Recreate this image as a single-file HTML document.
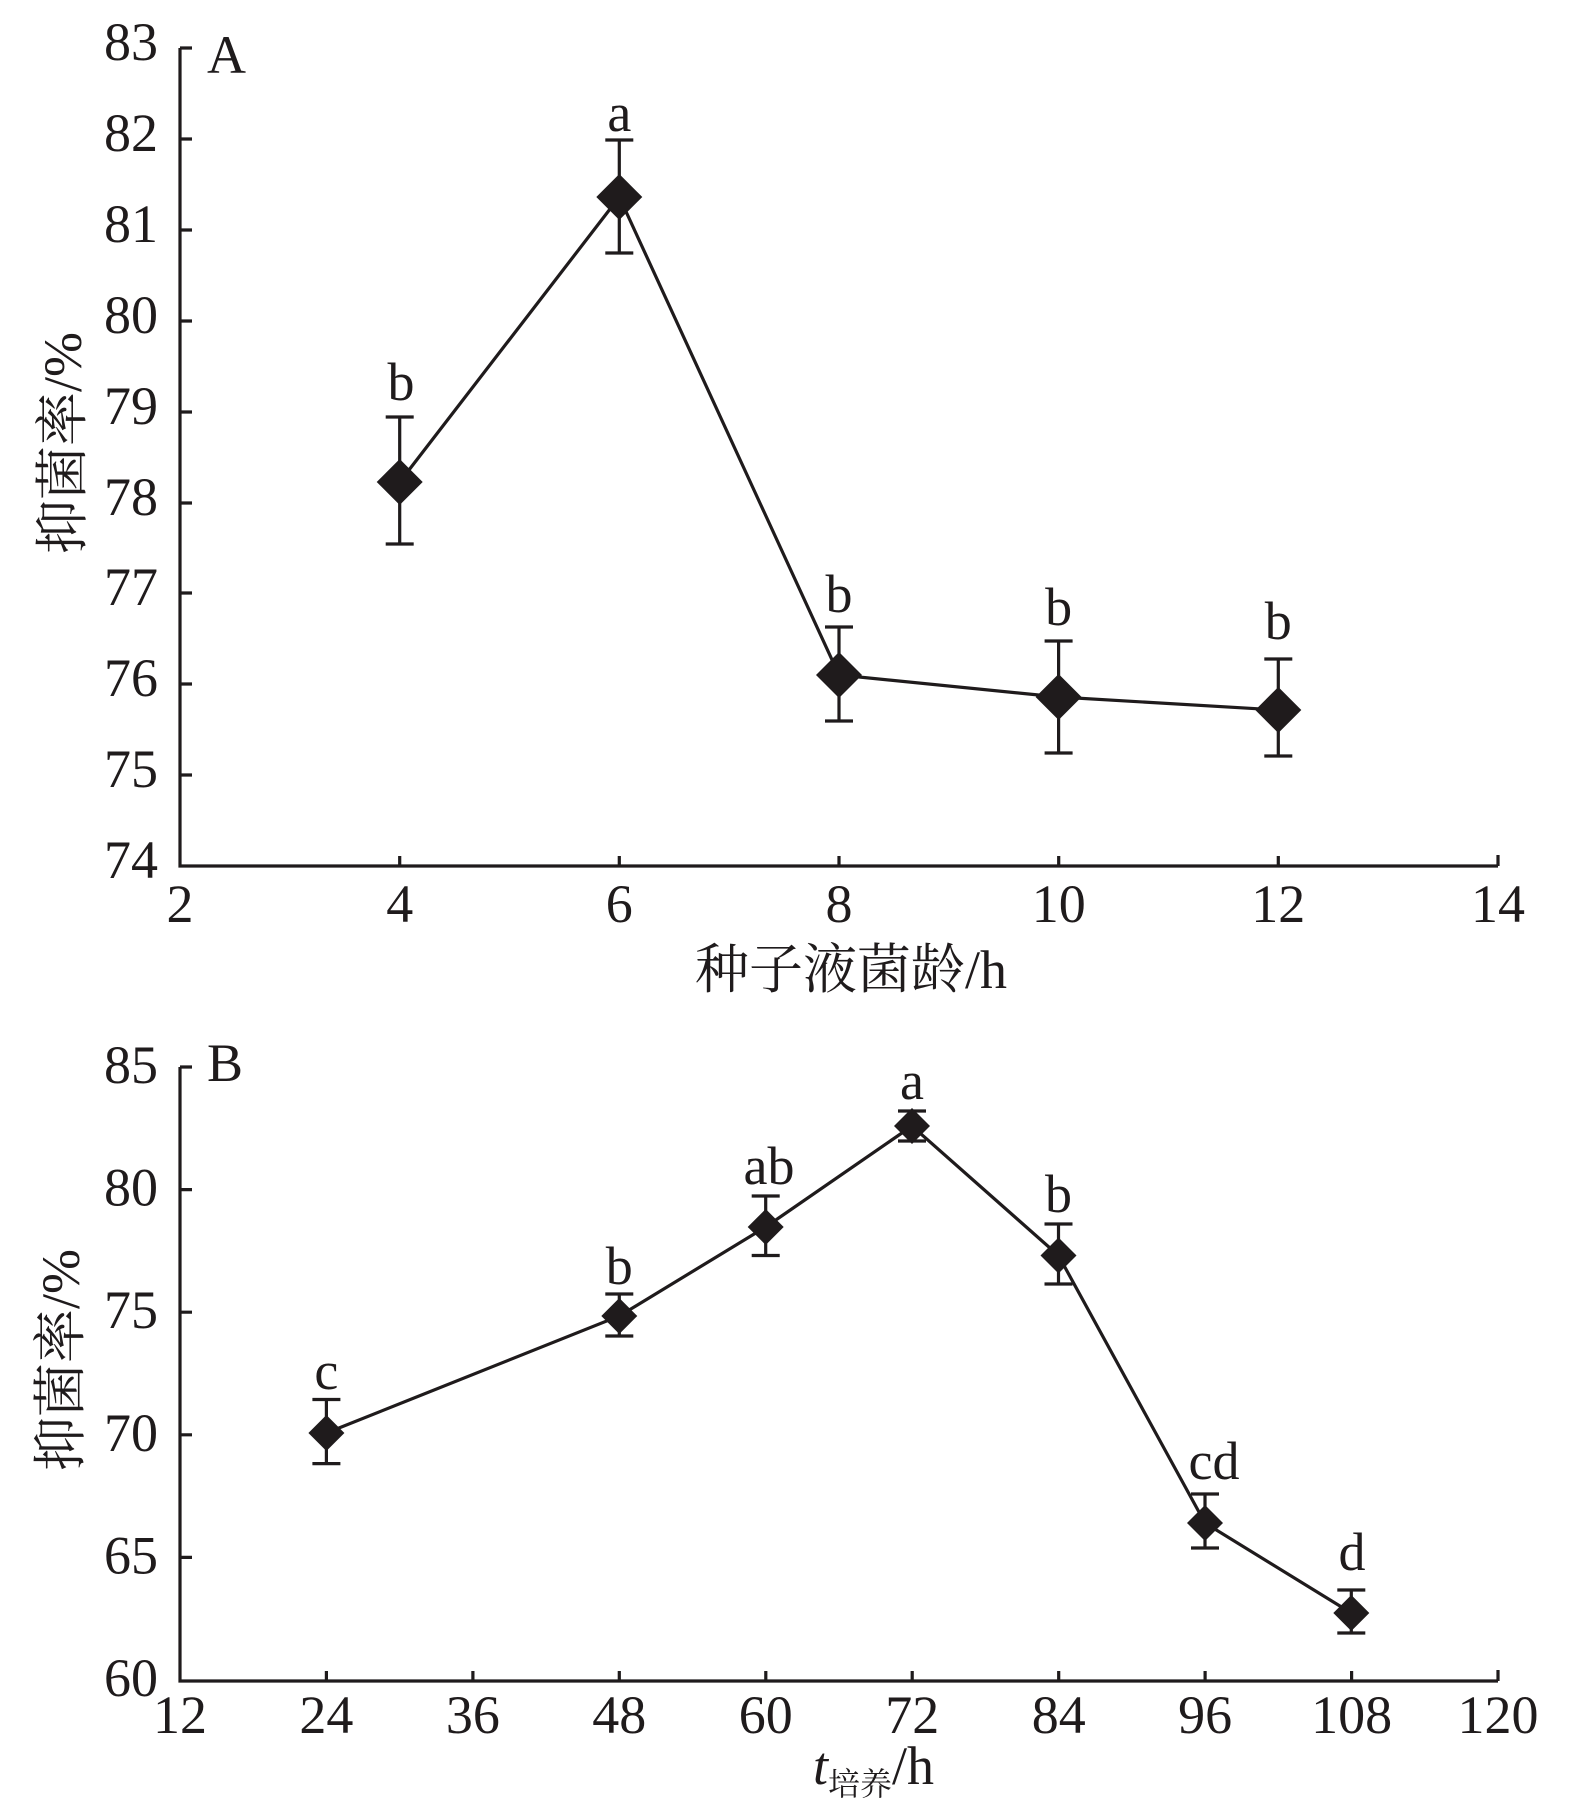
<!DOCTYPE html>
<html><head><meta charset="utf-8"><style>
html,body{margin:0;padding:0;background:#fff;}
svg{display:block;}
text{font-family:"Liberation Serif","Noto Serif CJK SC",serif;fill:#1f1b1c;}
</style></head><body>
<svg width="1575" height="1820" viewBox="0 0 1575 1820" xmlns="http://www.w3.org/2000/svg">
<g stroke="#1f1b1c" stroke-width="3.2" fill="none">
<!-- Plot A axes -->
<path d="M180,48 V866 H1498"/>
<path d="M180,48 H192 M180,139 H192 M180,230 H192 M180,321 H192 M180,412 H192 M180,503 H192 M180,593 H192 M180,684 H192 M180,775 H192"/>
<path d="M399.7,866 V856 M619.3,866 V856 M839,866 V856 M1058.7,866 V856 M1278.3,866 V856 M1498,866 V855"/>
<!-- Plot B axes -->
<path d="M180,1067 V1681 H1498"/>
<path d="M180,1067 H192 M180,1189.6 H192 M180,1312.2 H192 M180,1434.8 H192 M180,1557.4 H192"/>
<path d="M326.4,1681 V1671 M472.9,1681 V1671 M619.3,1681 V1671 M765.8,1681 V1671 M912.2,1681 V1671 M1058.7,1681 V1671 M1205.1,1681 V1671 M1351.6,1681 V1671 M1498,1681 V1670"/>
<!-- A series -->
<polyline points="399.7,482 619.3,197 839,675 1058.6,697 1278.3,710"/>
<path d="M399.7,417 V544 M385.7,417 H413.7 M385.7,544 H413.7"/>
<path d="M619.3,140 V253 M605.3,140 H633.3 M605.3,253 H633.3"/>
<path d="M839,627 V721 M825,627 H853 M825,721 H853"/>
<path d="M1058.6,641 V753 M1044.6,641 H1072.6 M1044.6,753 H1072.6"/>
<path d="M1278.3,659 V756 M1264.3,659 H1292.3 M1264.3,756 H1292.3"/>
<!-- B series -->
<polyline points="326.4,1433 619.3,1316 765.7,1227 912,1126 1058.5,1255.5 1205,1523 1351.3,1613"/>
<path d="M326.4,1399.5 V1463.6 M312.4,1399.5 H340.4 M312.4,1463.6 H340.4"/>
<path d="M619.3,1294 V1336 M605.3,1294 H633.3 M605.3,1336 H633.3"/>
<path d="M765.7,1196 V1255.5 M751.7,1196 H779.7 M751.7,1255.5 H779.7"/>
<path d="M912,1111 V1141 M898,1111 H926 M898,1141 H926"/>
<path d="M1058.5,1224 V1284 M1044.5,1224 H1072.5 M1044.5,1284 H1072.5"/>
<path d="M1205,1494 V1548 M1191,1494 H1219 M1191,1548 H1219"/>
<path d="M1351.3,1590 V1633 M1337.3,1590 H1365.3 M1337.3,1633 H1365.3"/>
</g>
<g fill="#1f1b1c">
<path d="M399.7,459 l23,23 l-23,23 l-23,-23z"/>
<path d="M619.3,174 l23,23 l-23,23 l-23,-23z"/>
<path d="M839,652 l23,23 l-23,23 l-23,-23z"/>
<path d="M1058.6,674 l23,23 l-23,23 l-23,-23z"/>
<path d="M1278.3,687 l23,23 l-23,23 l-23,-23z"/>
<path d="M326.4,1415 l18,18 l-18,18 l-18,-18z"/>
<path d="M619.3,1298 l18,18 l-18,18 l-18,-18z"/>
<path d="M765.7,1209 l18,18 l-18,18 l-18,-18z"/>
<path d="M912,1108 l18,18 l-18,18 l-18,-18z"/>
<path d="M1058.5,1237.5 l18,18 l-18,18 l-18,-18z"/>
<path d="M1205,1505 l18,18 l-18,18 l-18,-18z"/>
<path d="M1351.3,1595 l18,18 l-18,18 l-18,-18z"/>
</g>
<g font-size="54">
<!-- A y tick labels -->
<g text-anchor="end">
<text x="158" y="60">83</text>
<text x="158" y="151">82</text>
<text x="158" y="242">81</text>
<text x="158" y="333">80</text>
<text x="158" y="424">79</text>
<text x="158" y="515">78</text>
<text x="158" y="605">77</text>
<text x="158" y="696">76</text>
<text x="158" y="787">75</text>
<text x="158" y="878">74</text>
</g>
<g text-anchor="middle">
<text x="180" y="922">2</text>
<text x="399.7" y="922">4</text>
<text x="619.3" y="922">6</text>
<text x="839" y="922">8</text>
<text x="1058.7" y="922">10</text>
<text x="1278.3" y="922">12</text>
<text x="1498" y="922">14</text>
</g>
<text x="695" y="988">种子液菌龄/h</text>
<text transform="translate(81,443) rotate(-90)" text-anchor="middle">抑菌率/%</text>
<text x="207" y="73">A</text>
<g text-anchor="middle">
<text x="401" y="400">b</text>
<text x="619.3" y="131">a</text>
<text x="839" y="612">b</text>
<text x="1058.6" y="625">b</text>
<text x="1278.3" y="639">b</text>
</g>
<!-- B -->
<g text-anchor="end">
<text x="158" y="1083">85</text>
<text x="158" y="1205.6">80</text>
<text x="158" y="1328.2">75</text>
<text x="158" y="1450.8">70</text>
<text x="158" y="1573.4">65</text>
<text x="158" y="1696">60</text>
</g>
<g text-anchor="middle">
<text x="180" y="1733">12</text>
<text x="326.4" y="1733">24</text>
<text x="472.9" y="1733">36</text>
<text x="619.3" y="1733">48</text>
<text x="765.8" y="1733">60</text>
<text x="912.2" y="1733">72</text>
<text x="1058.7" y="1733">84</text>
<text x="1205.1" y="1733">96</text>
<text x="1351.6" y="1733">108</text>
<text x="1498" y="1733">120</text>
</g>
<text x="207" y="1081">B</text>
<text transform="translate(79,1360) rotate(-90)" text-anchor="middle">抑菌率/%</text>
<text x="813" y="1784"><tspan font-style="italic">t</tspan><tspan font-size="32" dy="11">培养</tspan><tspan dy="-11">/h</tspan></text>
<g text-anchor="middle">
<text x="326.4" y="1389">c</text>
<text x="619.3" y="1284">b</text>
<text x="769" y="1184">ab</text>
<text x="912" y="1099">a</text>
<text x="1058.5" y="1212">b</text>
<text x="1214" y="1479">cd</text>
<text x="1352" y="1570">d</text>
</g>
</g>
</svg>
</body></html>
